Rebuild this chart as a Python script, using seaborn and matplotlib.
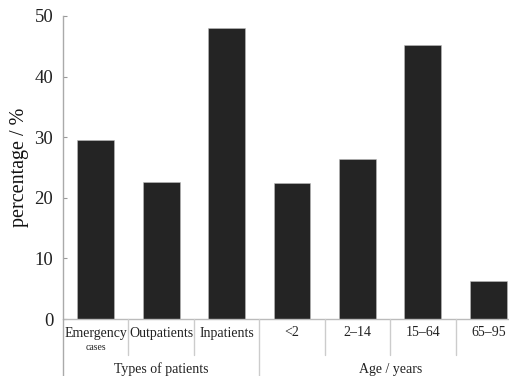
import matplotlib
matplotlib.use("Agg")
import matplotlib.pyplot as plt
import seaborn as sns
import pandas as pd

# Data: share of cases by patient type and by age group
categories = ["Emergency\ncases", "Outpatients", "Inpatients", "<2", "2\u201314", "15\u201364", "65\u201395"]
values = [29.5, 22.6, 48.0, 22.4, 26.4, 45.2, 6.2]
groups = ["Types of patients", "Types of patients", "Types of patients",
          "Age / years", "Age / years", "Age / years", "Age / years"]
group_names = ["Types of patients", "Age / years"]
y_ticks = [0, 10, 20, 30, 40, 50]

df = pd.DataFrame({"category": categories, "value": values, "group": groups})

sns.set_theme(style="white")
plt.rcParams["font.family"] = ["Liberation Serif", "DejaVu Serif"]

fig = plt.figure(figsize=(5.09, 3.76), dpi=100)
W, H = 509, 376
ax = fig.add_axes([63 / W, (H - 319) / H, (521 - 63) / W, (319 - 16) / H])

sns.barplot(data=df, x="category", y="value", color="#242424", width=0.565,
            edgecolor="#bbbbbb", linewidth=0.4, saturation=1, ax=ax)

ax.set_xlim(-0.5, len(categories) - 0.5)
ax.set_ylim(0, 50)
ax.set_yticks(y_ticks)
ax.set_yticklabels([str(t) for t in y_ticks], fontsize=13.5, color="#222222")
ax.tick_params(axis="y", direction="in", length=3, width=0.8, color="#999999", pad=7, left=True)
ax.tick_params(axis="x", bottom=False, labelbottom=False)
ax.set_xlabel("")
ax.set_ylabel("percentage / %", fontsize=14.5, color="#111111", labelpad=4)

for side in ["top", "right", "bottom"]:
    ax.spines[side].set_visible(False)
ax.spines["left"].set_color("#aaaaaa")
ax.spines["left"].set_linewidth(1.0)
ax.spines["left"].set_bounds(0, 50)

trans = ax.get_xaxis_transform()
px = 1.0 / 303  # one pixel in axes-height units

# baseline under the bars
ax.plot([-0.5, len(categories) - 0.5], [0, 0], transform=trans, color="#bbbbbb",
        lw=1.0, clip_on=False)
# left spine continues down through the label rows
ax.plot([-0.5, -0.5], [0, -70 * px], transform=trans, color="#aaaaaa", lw=1.0, clip_on=False)

n_first = groups.count(group_names[0])

# category labels and short dividers
for i, lab in enumerate(categories):
    if "\n" in lab:
        first, second = lab.split("\n")
        ax.text(i, -14 * px, first, transform=trans, ha="center", va="center",
                fontsize=10, color="#222222")
        ax.text(i, -28 * px, second, transform=trans, ha="center", va="center",
                fontsize=7, color="#222222")
    else:
        ax.text(i, -14 * px, lab, transform=trans, ha="center", va="center",
                fontsize=10, color="#222222")
    if i > 0:
        bottom = -70 * px if i == n_first else -36 * px
        ax.plot([i - 0.5, i - 0.5], [0, bottom], transform=trans, color="#cccccc",
                lw=1.0, clip_on=False)

# group labels
for g in group_names:
    idx = [i for i, gg in enumerate(groups) if gg == g]
    center = (idx[0] + idx[-1]) / 2
    ax.text(center, -50 * px, g, transform=trans, ha="center", va="center",
            fontsize=10, color="#222222")

fig.savefig("out.png", dpi=100)
